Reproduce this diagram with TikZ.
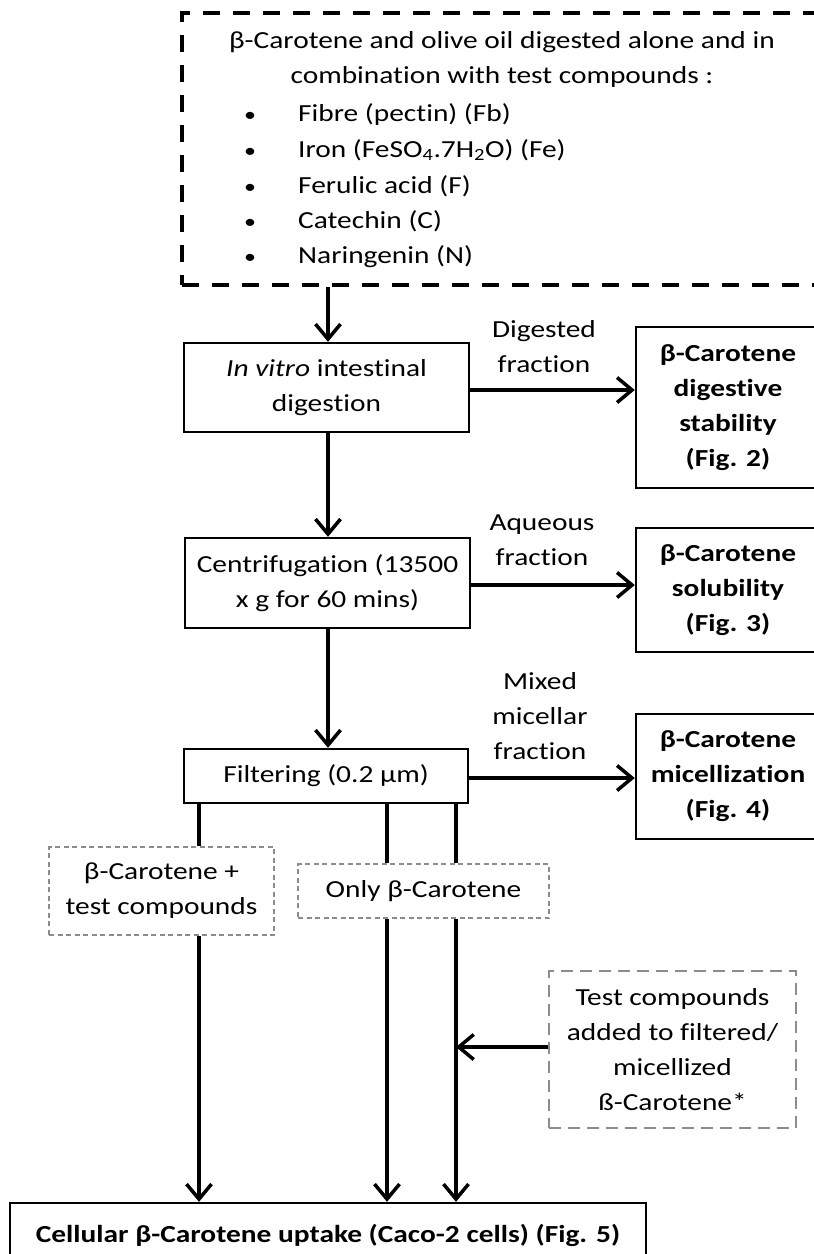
\documentclass[tikz,border=0pt]{standalone}
\usepackage{fontspec}
\setmainfont{Carlito}[FakeStretch=1.2, Ligatures=NoCommon]
\usetikzlibrary{arrows.meta}
\newcommand\mainfs{\fontsize{24.5}{35}\selectfont}
\definecolor{graydash}{HTML}{8C8C8C}
\begin{document}
\begin{tikzpicture}[x=1pt,y=-1pt,
  procbox/.style={draw, line width=2.4pt, align=center, inner sep=0pt, font=\mainfs},
  resbox/.style={procbox, font=\mainfs\bfseries},
  gbox/.style={draw=graydash, line width=2pt, dash pattern=on 5pt off 3.5pt, align=center, inner sep=0pt, font=\mainfs},
  gboxwide/.style={gbox, line width=2.6pt, dash pattern=on 12pt off 7pt},
  topbox/.style={draw, line width=3.8pt, dash pattern=on 17pt off 13pt, inner sep=0pt},
  lbl/.style={align=center, inner sep=0pt, font=\mainfs},
  txt/.style={inner sep=0pt, font=\mainfs},
  flow/.style={line width=3.5pt, -{Straight Barb[length=15pt,width=25pt,line width=3.5pt]}},
  plain/.style={line width=3.5pt}
]
\clip (0,0) rectangle (814,1254);
\fill[white] (0,0) rectangle (814,1254);

% top dashed container
\node[topbox, minimum width=648pt, minimum height=272pt] (top) at (506,149) {};
\node[lbl] (title) at (502,59.5) {β-Carotene and olive oil digested alone and in\\combination with test compounds :};
\foreach \i/\y/\t in {1/121/{Fibre (pectin) (Fb)},
                      2/157/{Iron (FeSO\textsubscript{4}.7H\textsubscript{2}O) (Fe)},
                      3/193/{Ferulic acid (F)},
                      4/228/{Catechin (C)},
                      5/263/{Naringenin (N)}}{
  \node[txt, anchor=base] (b\i) at (250,\y) {\fontsize{20}{20}\selectfont •};
  \node[txt, anchor=base west] (it\i) at (298,\y) {\t};
}

% process boxes
\node[procbox, minimum width=285pt, minimum height=89pt] (A) at (326.5,387.5) {\textit{In vitro} intestinal\\digestion};
\node[procbox, minimum width=285pt, minimum height=90pt] (B) at (327.5,583) {Centrifugation (13500\\x g for 60 mins)};
\node[procbox, minimum width=284pt, minimum height=54pt] (C) at (326,776) {Filtering (0.2 µm)};

% result boxes
\node[resbox, minimum width=184pt, minimum height=161pt] (R1) at (728,407.5) {β-Carotene\\digestive\\stability\\(Fig. 2)};
\node[resbox, minimum width=184pt, minimum height=124pt] (R2) at (728,590) {β-Carotene\\solubility\\(Fig. 3)};
\node[resbox, minimum width=184pt, minimum height=125pt] (R3) at (728,776.5) {β-Carotene\\micellization\\(Fig. 4)};

% arrow labels
\node[lbl] (L1) at (544,347) {Digested\\fraction};
\node[lbl] (L2) at (542,540) {Aqueous\\fraction};
\node[lbl] (L3) at (540,716) {Mixed\\micellar\\fraction};

% gray dashed boxes
\node[gbox, minimum width=225pt, minimum height=88pt] (G1) at (161.5,891) {β-Carotene +\\test compounds};
\node[gbox, minimum width=251pt, minimum height=54pt] (G2) at (423.5,891) {Only β-Carotene};
\node[gboxwide, minimum width=247pt, minimum height=157pt] (G3) at (672.5,1049.5) {Test compounds\\added to filtered/\\micellized\\ß-Carotene*};

% final box
\node[procbox, font=\mainfs\bfseries, minimum width=636pt, minimum height=64pt] (D) at (328,1235) {Cellular β-Carotene uptake (Caco-2 cells) (Fig. 5)};

% helper coordinates
\coordinate (x1) at (199,0);
\coordinate (x2) at (387,0);
\coordinate (x3) at (456,0);
\coordinate (xt) at (328,0);
\coordinate (yA) at (0,390);
\coordinate (yB) at (0,585);
\coordinate (yC) at (0,778);
\coordinate (yG) at (0,1047);

% connectors
\draw[flow] (top.south -| xt) -- (A.north -| xt);
\draw[flow] (A.south -| xt) -- (B.north -| xt);
\draw[flow] (B.south -| xt) -- (C.north -| xt);
\draw[flow] (A.east |- yA) -- (R1.west |- yA);
\draw[flow] (B.east |- yB) -- (R2.west |- yB);
\draw[flow] (C.east |- yC) -- (R3.west |- yC);

\draw[plain] (C.south -| x1) -- (G1.north -| x1);
\draw[plain] (C.south -| x2) -- (G2.north -| x2);
\draw[plain] (C.south -| x3) -- (G2.north -| x3);
\draw[flow] (G1.south -| x1) -- (D.north -| x1);
\draw[flow] (G2.south -| x2) -- (D.north -| x2);
\draw[flow] (G2.south -| x3) -- (D.north -| x3);
\draw[flow] (G3.west |- yG) -- (x3 |- yG);
\end{tikzpicture}
\end{document}
